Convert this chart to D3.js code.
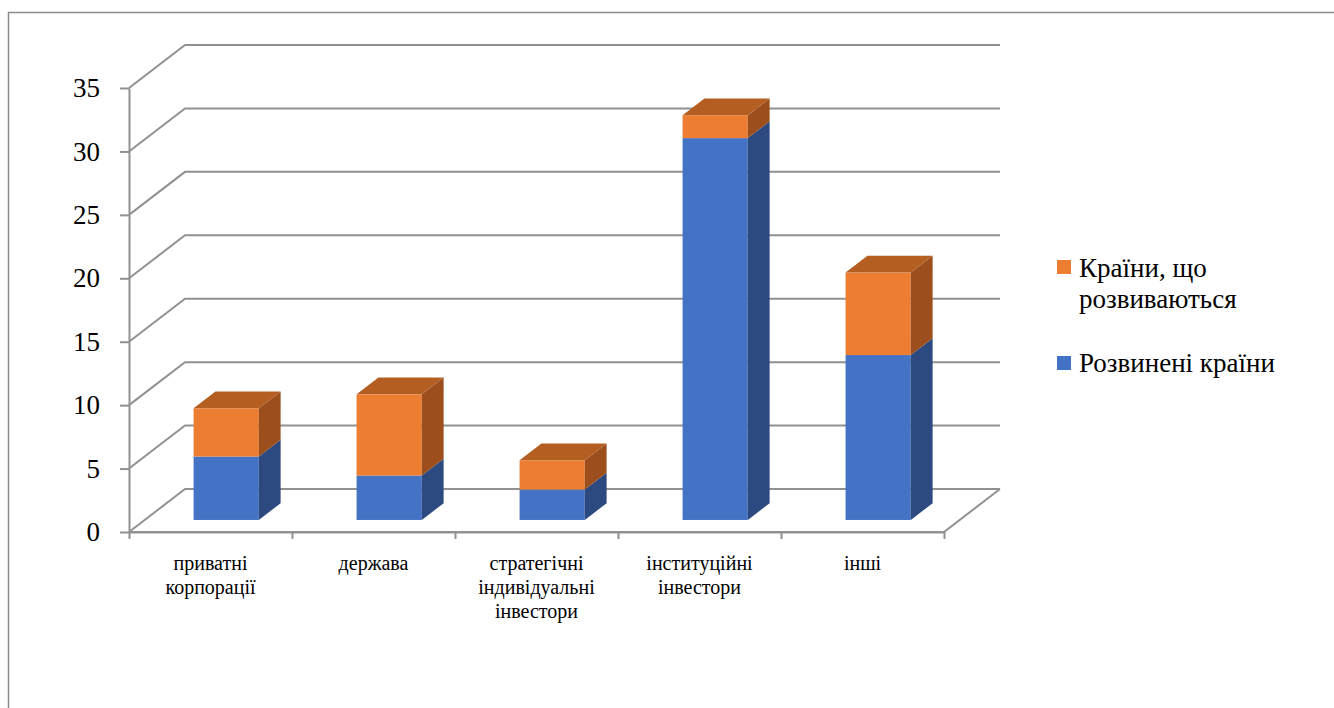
<!DOCTYPE html>
<html>
<head>
<meta charset="utf-8">
<script src="https://cdn.jsdelivr.net/npm/d3@7"></script>
</head>
<body style="margin:0;background:#fff">
<script>
// values
const categories = ['приватні корпорації', 'держава', 'стратегічні індивідуальні інвестори', 'інституційні інвестори', 'інші']
const categoryLines = [['приватні', 'корпорації'], ['держава'], ['стратегічні', 'індивідуальні', 'інвестори'], ['інституційні', 'інвестори'], ['інші']]
const developed = [5, 3.5, 2.4, 30.1, 13]
const developing = [3.8, 6.4, 2.3, 1.8, 6.5]
const yTicks = [0, 5, 10, 15, 20, 25, 30, 35]
const seriesNames = ['Країни, що розвиваються', 'Розвинені країни']
const legendLines = ['Країни, що', 'розвиваються']

const FONT = 'Liberation Serif'
const W = 1334, H = 708
const svg = d3.select('body').append('svg')
    .attr('width', W)
    .attr('height', H)
    .attr('font-family', FONT)

// chart border (right and bottom fall off the page)
svg.append('rect')
    .attr('x', 8.5).attr('y', 12.5)
    .attr('width', W).attr('height', H)
    .attr('fill', 'none')
    .attr('stroke', '#8c8c8c')
    .attr('stroke-width', 1.5)

const x0 = 129, x1 = 944, yBottom = 532, yTop = 88
const depth = { dx: 56, dy: -43 }   // back wall offset
const barFront = 0.28, barBack = 0.67  // bar position inside the depth

const xScale = d3.scaleBand()
    .domain(categories)
    .range([x0, x1])
    .padding(0)

const yScale = d3.scaleLinear()
    .domain([0, 35])
    .range([yBottom, yTop])

const grid = svg.append('g')
    .attr('stroke', '#919191')
    .attr('stroke-width', 2)
    .attr('fill', 'none')

// back wall gridlines with side-wall diagonals
yTicks.forEach(t => {
    const y = yScale(t)
    grid.append('path')
        .attr('d', `M${x0},${y}L${x0 + depth.dx},${y + depth.dy}L${x1 + depth.dx},${y + depth.dy}`)
})
// floor front and right edges
grid.append('path')
    .attr('d', `M${x0},${yBottom}L${x1},${yBottom}L${x1 + depth.dx},${yBottom + depth.dy}`)

// bars
const colors = {
    blue: { front: '#4472c4', side: '#2c4a80', top: '#3a62a8' },
    orange: { front: '#ed7d31', side: '#9c4f1d', top: '#b55e22' }
}
const barW = xScale.bandwidth() * 0.4

function box(g, cx, v0, v1, c, withTop) {
    const fx = cx - barW / 2 + barFront * depth.dx
    const fdy = barFront * depth.dy
    const sdx = (barBack - barFront) * depth.dx
    const sdy = (barBack - barFront) * depth.dy
    const yb = yScale(v0) + fdy
    const yt = yScale(v1) + fdy
    g.append('rect')
        .attr('x', fx).attr('y', yt)
        .attr('width', barW).attr('height', yb - yt)
        .attr('fill', c.front)
    g.append('path')
        .attr('d', `M${fx + barW},${yb}L${fx + barW + sdx},${yb + sdy}L${fx + barW + sdx},${yt + sdy}L${fx + barW},${yt}Z`)
        .attr('fill', c.side)
    if (withTop) {
        g.append('path')
            .attr('d', `M${fx},${yt}L${fx + sdx},${yt + sdy}L${fx + barW + sdx},${yt + sdy}L${fx + barW},${yt}Z`)
            .attr('fill', c.top)
    }
}

const bars = svg.append('g')
categories.forEach((c, i) => {
    const cx = xScale(c) + xScale.bandwidth() / 2
    box(bars, cx, 0, developed[i], colors.blue, false)
    box(bars, cx, developed[i], developed[i] + developing[i], colors.orange, true)
})

// y axis
const yAxis = d3.axisLeft(yScale)
    .tickValues(yTicks)
    .tickSize(9)
    .tickSizeOuter(0)
    .tickPadding(20)
const gy = svg.append('g')
    .attr('transform', `translate(${x0},0)`)
    .call(yAxis)
    .attr('font-family', FONT)
    .attr('font-size', 27)
gy.selectAll('path, line').attr('stroke', '#919191').attr('stroke-width', 2)
gy.selectAll('text').attr('fill', '#000')

// x axis: ticks at category boundaries
const edges = d3.scaleLinear().domain([0, categories.length]).range([x0, x1])
const xAxis = d3.axisBottom(edges)
    .tickValues(d3.range(categories.length + 1))
    .tickSize(7)
    .tickSizeOuter(0)
    .tickFormat('')
const gx = svg.append('g')
    .attr('transform', `translate(0,${yBottom})`)
    .call(xAxis)
gx.selectAll('path, line').attr('stroke', '#919191').attr('stroke-width', 2)

const labels = svg.append('g')
    .attr('font-family', FONT)
    .attr('font-size', 20)
categories.forEach((c, i) => {
    const cx = xScale(c) + xScale.bandwidth() / 2
    const t = labels.append('text')
        .attr('x', cx)
        .attr('y', 570)
        .attr('text-anchor', 'middle')
    categoryLines[i].forEach((line, j) => {
        t.append('tspan')
            .attr('x', cx)
            .attr('dy', j === 0 ? 0 : 24)
            .text(line)
    })
})

// legend
const legend = svg.append('g')
    .attr('font-family', FONT)
    .attr('font-size', 27)
legend.append('rect')
    .attr('x', 1057).attr('y', 260).attr('width', 14).attr('height', 14)
    .attr('fill', colors.orange.front)
legend.append('text')
    .attr('x', 1079).attr('y', 277)
    .selectAll('tspan')
    .data(legendLines)
    .enter().append('tspan')
    .attr('x', 1079)
    .attr('dy', (d, i) => i === 0 ? 0 : 31)
    .text(d => d)
legend.append('rect')
    .attr('x', 1057).attr('y', 356).attr('width', 14).attr('height', 14)
    .attr('fill', colors.blue.front)
legend.append('text')
    .attr('x', 1079).attr('y', 372)
    .text(seriesNames[1])
</script>
</body>
</html>
